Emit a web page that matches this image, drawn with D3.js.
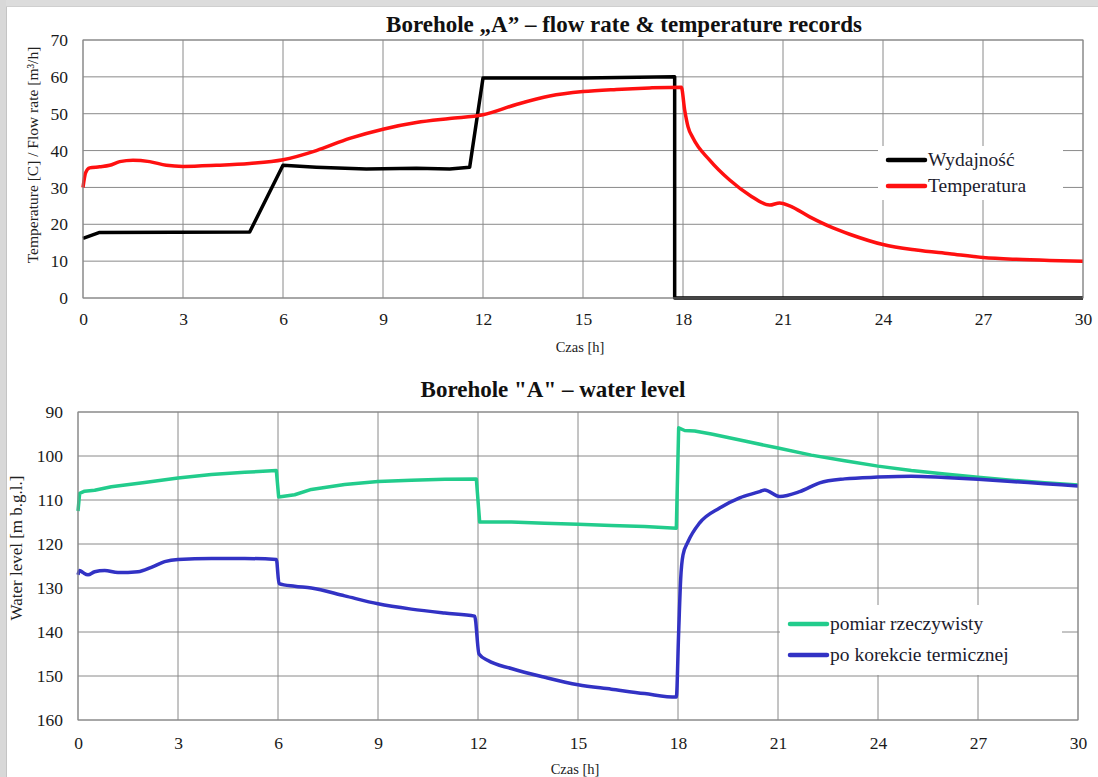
<!DOCTYPE html>
<html>
<head>
<meta charset="utf-8">
<script src="https://cdn.jsdelivr.net/npm/d3@7"></script>
<style>
  body { margin: 0; background: #fff; }
  text { font-family: "Liberation Serif", "Times New Roman", serif; }
</style>
</head>
<body>
<div id="wrapper"></div>
<script>
// time axis (hours)
const timeTicks = [0, 3, 6, 9, 12, 15, 18, 21, 24, 27, 30];

// top chart: flow rate (Wydajność)
const flowTime  = [0, 0.5, 5, 6, 7, 8.5, 10, 11, 11.6, 12, 15, 17.75, 17.75, 30];
const flowValue = [16.2, 17.8, 17.9, 36, 35.5, 35, 35.2, 35, 35.5, 59.7, 59.7, 60, 0, 0];

// top chart: temperature (Temperatura)
const tempTime  = [0, 0.08, 0.2, 0.5, 0.8, 1.1, 1.5, 2, 2.5, 3, 4, 5, 6, 7, 8, 9, 10, 11, 12, 13, 14, 15, 16, 17, 17.95,
                   18.05, 18.15, 18.3, 18.8, 19.4, 20, 20.6, 20.9, 21.2, 21.8, 22.5, 23, 24, 25, 26, 27, 28, 29, 30];
const tempValue = [30, 34, 35.3, 35.6, 36, 37, 37.4, 37, 36, 35.7, 36, 36.5, 37.5, 40, 43.3, 45.8, 47.6, 48.7, 49.7, 52.5, 54.8, 56, 56.6, 57, 57.2,
                   51, 46.5, 43.4, 37.4, 32, 27.9, 25.2, 25.8, 25, 22, 19, 17.3, 14.5, 13, 12, 11, 10.5, 10.2, 10];

// bottom chart: measured water level (pomiar rzeczywisty)
const levelTime  = [0, 0.05, 0.2, 0.5, 1, 2, 3, 4, 5, 5.95, 6.02, 6.5, 7, 8, 9, 10, 11, 11.95, 12.05, 13, 14, 15, 16, 17, 17.95,
                    18.02, 18.2, 18.5, 19, 20, 21, 22, 23, 24, 25, 26, 27, 28, 29, 30];
const levelValue = [112.5, 108.5, 108, 107.8, 107, 106, 105, 104.2, 103.7, 103.3, 109.3, 108.8, 107.6, 106.5, 105.8, 105.5, 105.3, 105.2, 115, 115, 115.3, 115.5, 115.8, 116, 116.4,
                    93.6, 94.2, 94.3, 95, 96.6, 98.2, 99.8, 101.1, 102.3, 103.3, 104.1, 104.8, 105.5, 106.1, 106.6];

// bottom chart: level after thermal correction (po korekcie termicznej)
const corrTime  = [0, 0.05, 0.15, 0.3, 0.5, 0.8, 1.2, 1.8, 2.2, 2.6, 3, 4, 5, 5.95, 6.03, 6.5, 7, 8, 9, 10, 11, 11.9, 12.03, 12.3, 13, 14, 15, 16, 17, 17.95,
                   18.02, 18.08, 18.15, 18.3, 18.65, 19.25, 19.85, 20.45, 20.6, 21.05, 21.65, 22.25, 23, 24, 25, 26, 27, 28, 29, 30];
const corrValue = [127, 126, 126.5, 127, 126.3, 126, 126.5, 126.3, 125.3, 124, 123.5, 123.3, 123.3, 123.5, 129, 129.6, 130, 131.8, 133.6, 134.8, 135.7, 136.4, 145, 146.5, 148.3, 150.3, 152, 153, 154, 154.8,
                   140, 128, 122.5, 119.5, 115.2, 111.8, 109.5, 108.1, 107.7, 109.2, 108.1, 106.1, 105.2, 104.8, 104.6, 104.9, 105.3, 105.8, 106.3, 106.8];

const topTicks = [0, 10, 20, 30, 40, 50, 60, 70];
const bottomTicks = [90, 100, 110, 120, 130, 140, 150, 160];

const svg = d3.select("#wrapper").append("svg")
    .attr("width", 1098)
    .attr("height", 777);

svg.append("rect").attr("width", 1098).attr("height", 777).attr("fill", "#fff");
// page frame on the left/top
svg.append("rect").attr("width", 1098).attr("height", 6).attr("fill", "#dcdcdc");
svg.append("rect").attr("width", 6).attr("height", 777).attr("fill", "#d8d8d8");
svg.append("line").attr("x1", 6.5).attr("x2", 6.5).attr("y1", 6).attr("y2", 777).attr("stroke", "#c4c4c4");
svg.append("line").attr("x1", 6).attr("x2", 1098).attr("y1", 6.5).attr("y2", 6.5).attr("stroke", "#cfcfcf");

function panel(opts) {
    const x = d3.scaleLinear().domain([0, 30]).range([opts.left, opts.right]);
    const y = d3.scaleLinear().domain(opts.yDomain).range([opts.bottom, opts.top]);
    const g = svg.append("g");

    // gridlines
    g.append("g").selectAll("line").data(timeTicks).enter().append("line")
        .attr("x1", d => x(d)).attr("x2", d => x(d))
        .attr("y1", opts.top).attr("y2", opts.bottom)
        .attr("stroke", "#8a8a8a").attr("stroke-width", 1);
    g.append("g").selectAll("line").data(opts.yTicks).enter().append("line")
        .attr("x1", opts.left).attr("x2", opts.right)
        .attr("y1", d => y(d)).attr("y2", d => y(d))
        .attr("stroke", "#8a8a8a").attr("stroke-width", 1);

    // axes (labels only)
    const xAxis = g.append("g")
        .attr("transform", `translate(0,${opts.bottom})`)
        .call(d3.axisBottom(x).tickValues(timeTicks).tickSize(0).tickPadding(opts.xPad));
    const yAxis = g.append("g")
        .attr("transform", `translate(${opts.left},0)`)
        .call(d3.axisLeft(y).tickValues(opts.yTicks).tickSize(0).tickPadding(opts.yPad));
    [xAxis, yAxis].forEach(a => {
        a.select(".domain").remove();
        a.selectAll("text").style("font-family", '"Liberation Serif", "Times New Roman", serif')
            .style("font-size", "17.5px").attr("fill", "#1a1a1a");
    });

    // title
    svg.append("text").attr("x", opts.titleX).attr("y", opts.titleY)
        .attr("text-anchor", "middle").style("font-weight", "bold").style("font-size", "23px")
        .attr("fill", "#111").text(opts.title);
    // x title
    svg.append("text").attr("x", opts.xTitleX).attr("y", opts.xTitleY)
        .attr("text-anchor", "middle").style("font-size", "14.5px").attr("fill", "#222").text("Czas [h]");
    // y title
    svg.append("text")
        .attr("transform", `translate(${opts.yTitleX},${opts.yTitleY}) rotate(-90)`)
        .attr("text-anchor", "middle").style("font-size", opts.yTitleSize).attr("fill", "#222").text(opts.yTitle);

    // legend background
    svg.append("rect").attr("x", opts.legend.x).attr("y", opts.legend.y)
        .attr("width", opts.legend.w).attr("height", opts.legend.h).attr("fill", "#fff");

    // series
    opts.series.forEach((s, i) => {
        const pts = s.t.map((t, k) => [t, s.v[k]]);
        svg.append("path").datum(pts)
            .attr("fill", "none").attr("stroke", s.color).attr("stroke-width", 3.5)
            .attr("stroke-linejoin", "round")
            .attr("d", d3.line().x(d => x(d[0])).y(d => y(d[1])).curve(s.curve || d3.curveLinear));

        const ly = opts.legend.y + opts.legend.first + i * opts.legend.step;
        svg.append("line").attr("x1", opts.legend.x + 10).attr("x2", opts.legend.x + 47)
            .attr("y1", ly).attr("y2", ly).attr("stroke", s.color).attr("stroke-width", 4.5)
            .attr("stroke-linecap", "round");
        svg.append("text").attr("x", opts.legend.x + 50).attr("y", ly + 6)
            .style("font-size", "19.5px").attr("fill", "#1c1c2e").text(s.name);
    });

    // plot border
    svg.append("rect").attr("x", opts.left).attr("y", opts.top)
        .attr("width", opts.right - opts.left).attr("height", opts.bottom - opts.top)
        .attr("fill", "none").attr("stroke", "#8a8a8a").attr("stroke-width", 1);
}

panel({
    left: 83, right: 1083, top: 40, bottom: 298,
    yDomain: [0, 70], yTicks: topTicks, xPad: 15, yPad: 15,
    title: "Borehole \u201EA\u201D \u2013 flow rate & temperature records", titleX: 624, titleY: 32,
    xTitleX: 580, xTitleY: 352,
    yTitle: "Temperature [C] / Flow rate [m\u00B3/h]", yTitleX: 38, yTitleY: 155, yTitleSize: "15.5px",
    legend: { x: 878, y: 146, w: 185, h: 54, first: 14, step: 26 },
    series: [
        { name: "Wydajno\u015B\u0107", t: flowTime, v: flowValue, color: "#000000" },
        { name: "Temperatura", t: tempTime, v: tempValue, color: "#ff1010", curve: d3.curveMonotoneX }
    ]
});

panel({
    left: 78, right: 1078, top: 412, bottom: 720,
    yDomain: [160, 90], yTicks: bottomTicks, xPad: 17, yPad: 15,
    title: "Borehole \"A\" \u2013 water level", titleX: 553, titleY: 397,
    xTitleX: 575, xTitleY: 774,
    yTitle: "Water level [m b.g.l.]", yTitleX: 22, yTitleY: 548, yTitleSize: "17px",
    legend: { x: 780, y: 605, w: 282, h: 70, first: 19, step: 31 },
    series: [
        { name: "pomiar rzeczywisty", t: levelTime, v: levelValue, color: "#22cc8c" },
        { name: "po korekcie termicznej", t: corrTime, v: corrValue, color: "#3232c4", curve: d3.curveMonotoneX }
    ]
});
</script>
</body>
</html>
